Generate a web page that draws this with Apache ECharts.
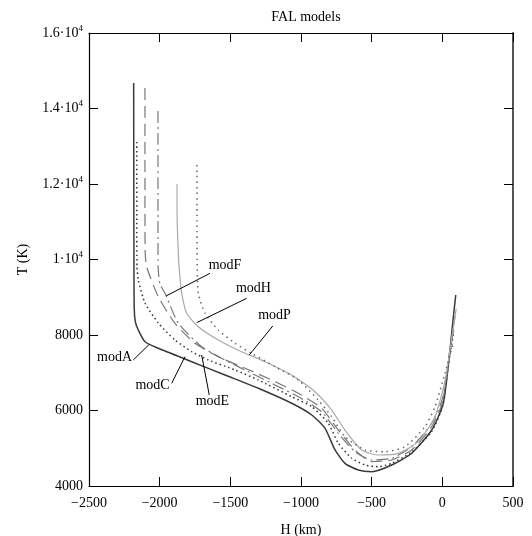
<!DOCTYPE html>
<html>
<head>
<meta charset="utf-8">
<script src="https://cdn.jsdelivr.net/npm/echarts@6/dist/echarts.min.js"></script>
<style>
html,body{margin:0;padding:0;background:#fff;}
#chart{width:532px;height:536px;}
</style>
</head>
<body>
<div id="chart"></div>
<script>
// H (km), T (K) pairs
var modA = [[-2184,14675],[-2183,12000],[-2182,10000],[-2180,8700],[-2172,8350],[-2151,8132],[-2104,7823],[-2010,7648],[-1773,7293],[-1538,6940],[-1302,6588],[-1066,6191],[-924,5881],[-830,5528],[-759,4954],[-689,4601],[-595,4424],[-500,4379],[-358,4556],[-217,4866],[-75,5483],[7,6191],[54,7603],[78,8485],[95,9060]];
var modC = [[-2162,13113],[-2162,11000],[-2160,9800],[-2151,9457],[-2104,8848],[-2010,8318],[-1892,7868],[-1773,7558],[-1656,7338],[-1467,7073],[-1302,6808],[-1066,6366],[-924,6101],[-807,5661],[-736,5131],[-641,4734],[-547,4556],[-453,4511],[-358,4600],[-217,4900],[-75,5450],[0,6100],[50,7400],[82,8100]];
var modE = [[-2104,14543],[-2104,12000],[-2103,10250],[-2092,9809],[-2010,9015],[-1892,8310],[-1750,7780],[-1585,7425],[-1396,7118],[-1207,6808],[-1019,6456],[-854,6058],[-736,5483],[-618,4954],[-500,4644],[-358,4689],[-217,4954],[-75,5571],[0,6200],[50,7500],[90,8500]];
var modF = [[-2012,13934],[-2012,11500],[-2011,9800],[-1998,9350],[-1962,9105],[-1868,8310],[-1703,7690],[-1538,7338],[-1373,7028],[-1184,6676],[-1019,6366],[-854,5968],[-736,5396],[-618,4909],[-500,4689],[-358,4734],[-217,5041],[-75,5661],[0,6300],[50,7400],[82,8200]];
var modH = [[-1877,12000],[-1877,11311],[-1866,10000],[-1856,9510],[-1844,9105],[-1809,8575],[-1727,8220],[-1585,7868],[-1420,7558],[-1255,7293],[-1066,6940],[-901,6498],[-783,6013],[-689,5483],[-571,4954],[-453,4821],[-311,4866],[-170,5174],[-52,5836],[20,6800],[70,8000],[98,8700]];
var modP = [[-1736,12503],[-1736,11000],[-1735,9987],[-1727,9105],[-1679,8575],[-1585,8132],[-1467,7780],[-1349,7515],[-1184,7160],[-1019,6808],[-878,6278],[-783,5836],[-689,5306],[-547,4954],[-406,4909],[-264,5041],[-123,5571],[-52,6101],[20,7000],[78,7800]];

var labelNames = ['modA','modC','modE','modF','modH','modP'];
var labelPos = [[-2316,7391],[-2047,6649],[-1623,6233],[-1534,9828],[-1333,9219],[-1184,8503]];
var pointerStart = [[-2187,7338],[-1915,6720],[-1649,6410],[-1644,9634],[-1384,8972],[-1200,8238]];
var pointerEnd = [[-2073,7754],[-1821,7425],[-1703,7470],[-1955,9033],[-1738,8326],[-1366,7470]];

var xTicks = [-2500,-2000,-1500,-1000,-500,0,500];
var yTickLabels = {4000:'4000',6000:'6000',8000:'8000',10000:'{a|1·10}{s|4}',12000:'{a|1.2·10}{s|4}',14000:'{a|1.4·10}{s|4}',16000:'{a|1.6·10}{s|4}'};

var FONT = '"Liberation Serif","DejaVu Serif",serif';
var chart = echarts.init(document.getElementById('chart'), null, {renderer:'canvas'});

function lineSeries(name, data, color, type, width) {
  return {
    name: name, type: 'line', data: data, showSymbol: false, smooth: 0.2,
    lineStyle: {color: color, width: width, type: type},
    silent: true, animation: false, z: 3
  };
}

var labelData = labelNames.map(function(n, i){ return [labelPos[i][0], labelPos[i][1], n]; });
var pointerData = labelNames.map(function(n, i){ return {coords: [pointerStart[i], pointerEnd[i]]}; });

var option = {
  backgroundColor: '#fff',
  animation: false,
  title: {
    text: 'FAL models', left: 301, top: 5, textAlign: 'center',
    textStyle: {fontFamily: FONT, fontSize: 14, fontWeight: 'normal', color: '#000'}
  },
  grid: {left: 89, top: 33, right: 19, bottom: 50, containLabel: false, outerBoundsMode: 'none'},
  xAxis: [{
    type: 'value', min: -2500, max: 500, interval: 500,
    name: 'H (km)', nameLocation: 'middle', nameGap: 37,
    nameTextStyle: {fontFamily: FONT, fontSize: 14, color: '#000'},
    axisLine: {show: true, onZero: false, lineStyle: {color: '#000', width: 1.2}},
    axisTick: {show: true, inside: true, length: 9, lineStyle: {color: '#000'}},
    axisLabel: {fontFamily: FONT, fontSize: 14, color: '#000', margin: 10,
      formatter: function(v){ return String(v).replace('-', '\u2212'); }},
    splitLine: {show: false}
  }, {
    type: 'value', position: 'top', min: -2500, max: 500, interval: 500,
    axisLine: {show: true, onZero: false, lineStyle: {color: '#000', width: 1.2}},
    axisTick: {show: true, inside: true, length: 9, lineStyle: {color: '#000'}},
    axisLabel: {show: false}, splitLine: {show: false}
  }],
  yAxis: [{
    type: 'value', min: 4000, max: 16000, interval: 2000,
    name: 'T (K)', nameLocation: 'middle', nameGap: 59, nameRotate: 90,
    nameTextStyle: {fontFamily: FONT, fontSize: 14, color: '#000'},
    axisLine: {show: true, onZero: false, lineStyle: {color: '#000', width: 1.2}},
    axisTick: {show: true, inside: true, length: 9, lineStyle: {color: '#000'}},
    axisLabel: {fontFamily: FONT, fontSize: 14, color: '#000', margin: 6,
      formatter: function(v){ return yTickLabels[v] || String(v); },
      rich: {
        a: {fontFamily: FONT, fontSize: 14, color: '#000'},
        s: {fontFamily: FONT, fontSize: 9, color: '#000', padding: [0,0,9,0]}
      }
    },
    splitLine: {show: false}
  }, {
    type: 'value', position: 'right', min: 4000, max: 16000, interval: 2000,
    axisLine: {show: true, onZero: false, lineStyle: {color: '#555', width: 2}},
    axisTick: {show: true, inside: true, length: 9, lineStyle: {color: '#000'}},
    axisLabel: {show: false}, splitLine: {show: false}
  }],
  series: [
    lineSeries('modA', modA, '#3a3a3a', 'solid', 1.5),
    lineSeries('modC', modC, '#333', [1.5,3], 1.5),
    lineSeries('modE', modE, '#777', [12,6], 1.2),
    lineSeries('modF', modF, '#777', [12,4,2,4], 1.2),
    lineSeries('modH', modH, '#aaa', 'solid', 1.2),
    lineSeries('modP', modP, '#666', [1.5,4], 1.5),
    {
      type: 'lines', coordinateSystem: 'cartesian2d', data: pointerData,
      lineStyle: {color: '#000', width: 1, opacity: 1}, symbol: 'none', silent: true, z: 4
    },
    {
      type: 'scatter', data: labelData, symbolSize: 1, itemStyle: {color: 'rgba(0,0,0,0)'},
      label: {show: true, position: [0, 0], align: 'center', verticalAlign: 'middle',
        formatter: function(p){ return p.value[2]; },
        fontFamily: FONT, fontSize: 14, color: '#000', textBorderWidth: 0, opacity: 1},
      silent: true, z: 5
    }
  ]
};
chart.setOption(option);
</script>
</body>
</html>
